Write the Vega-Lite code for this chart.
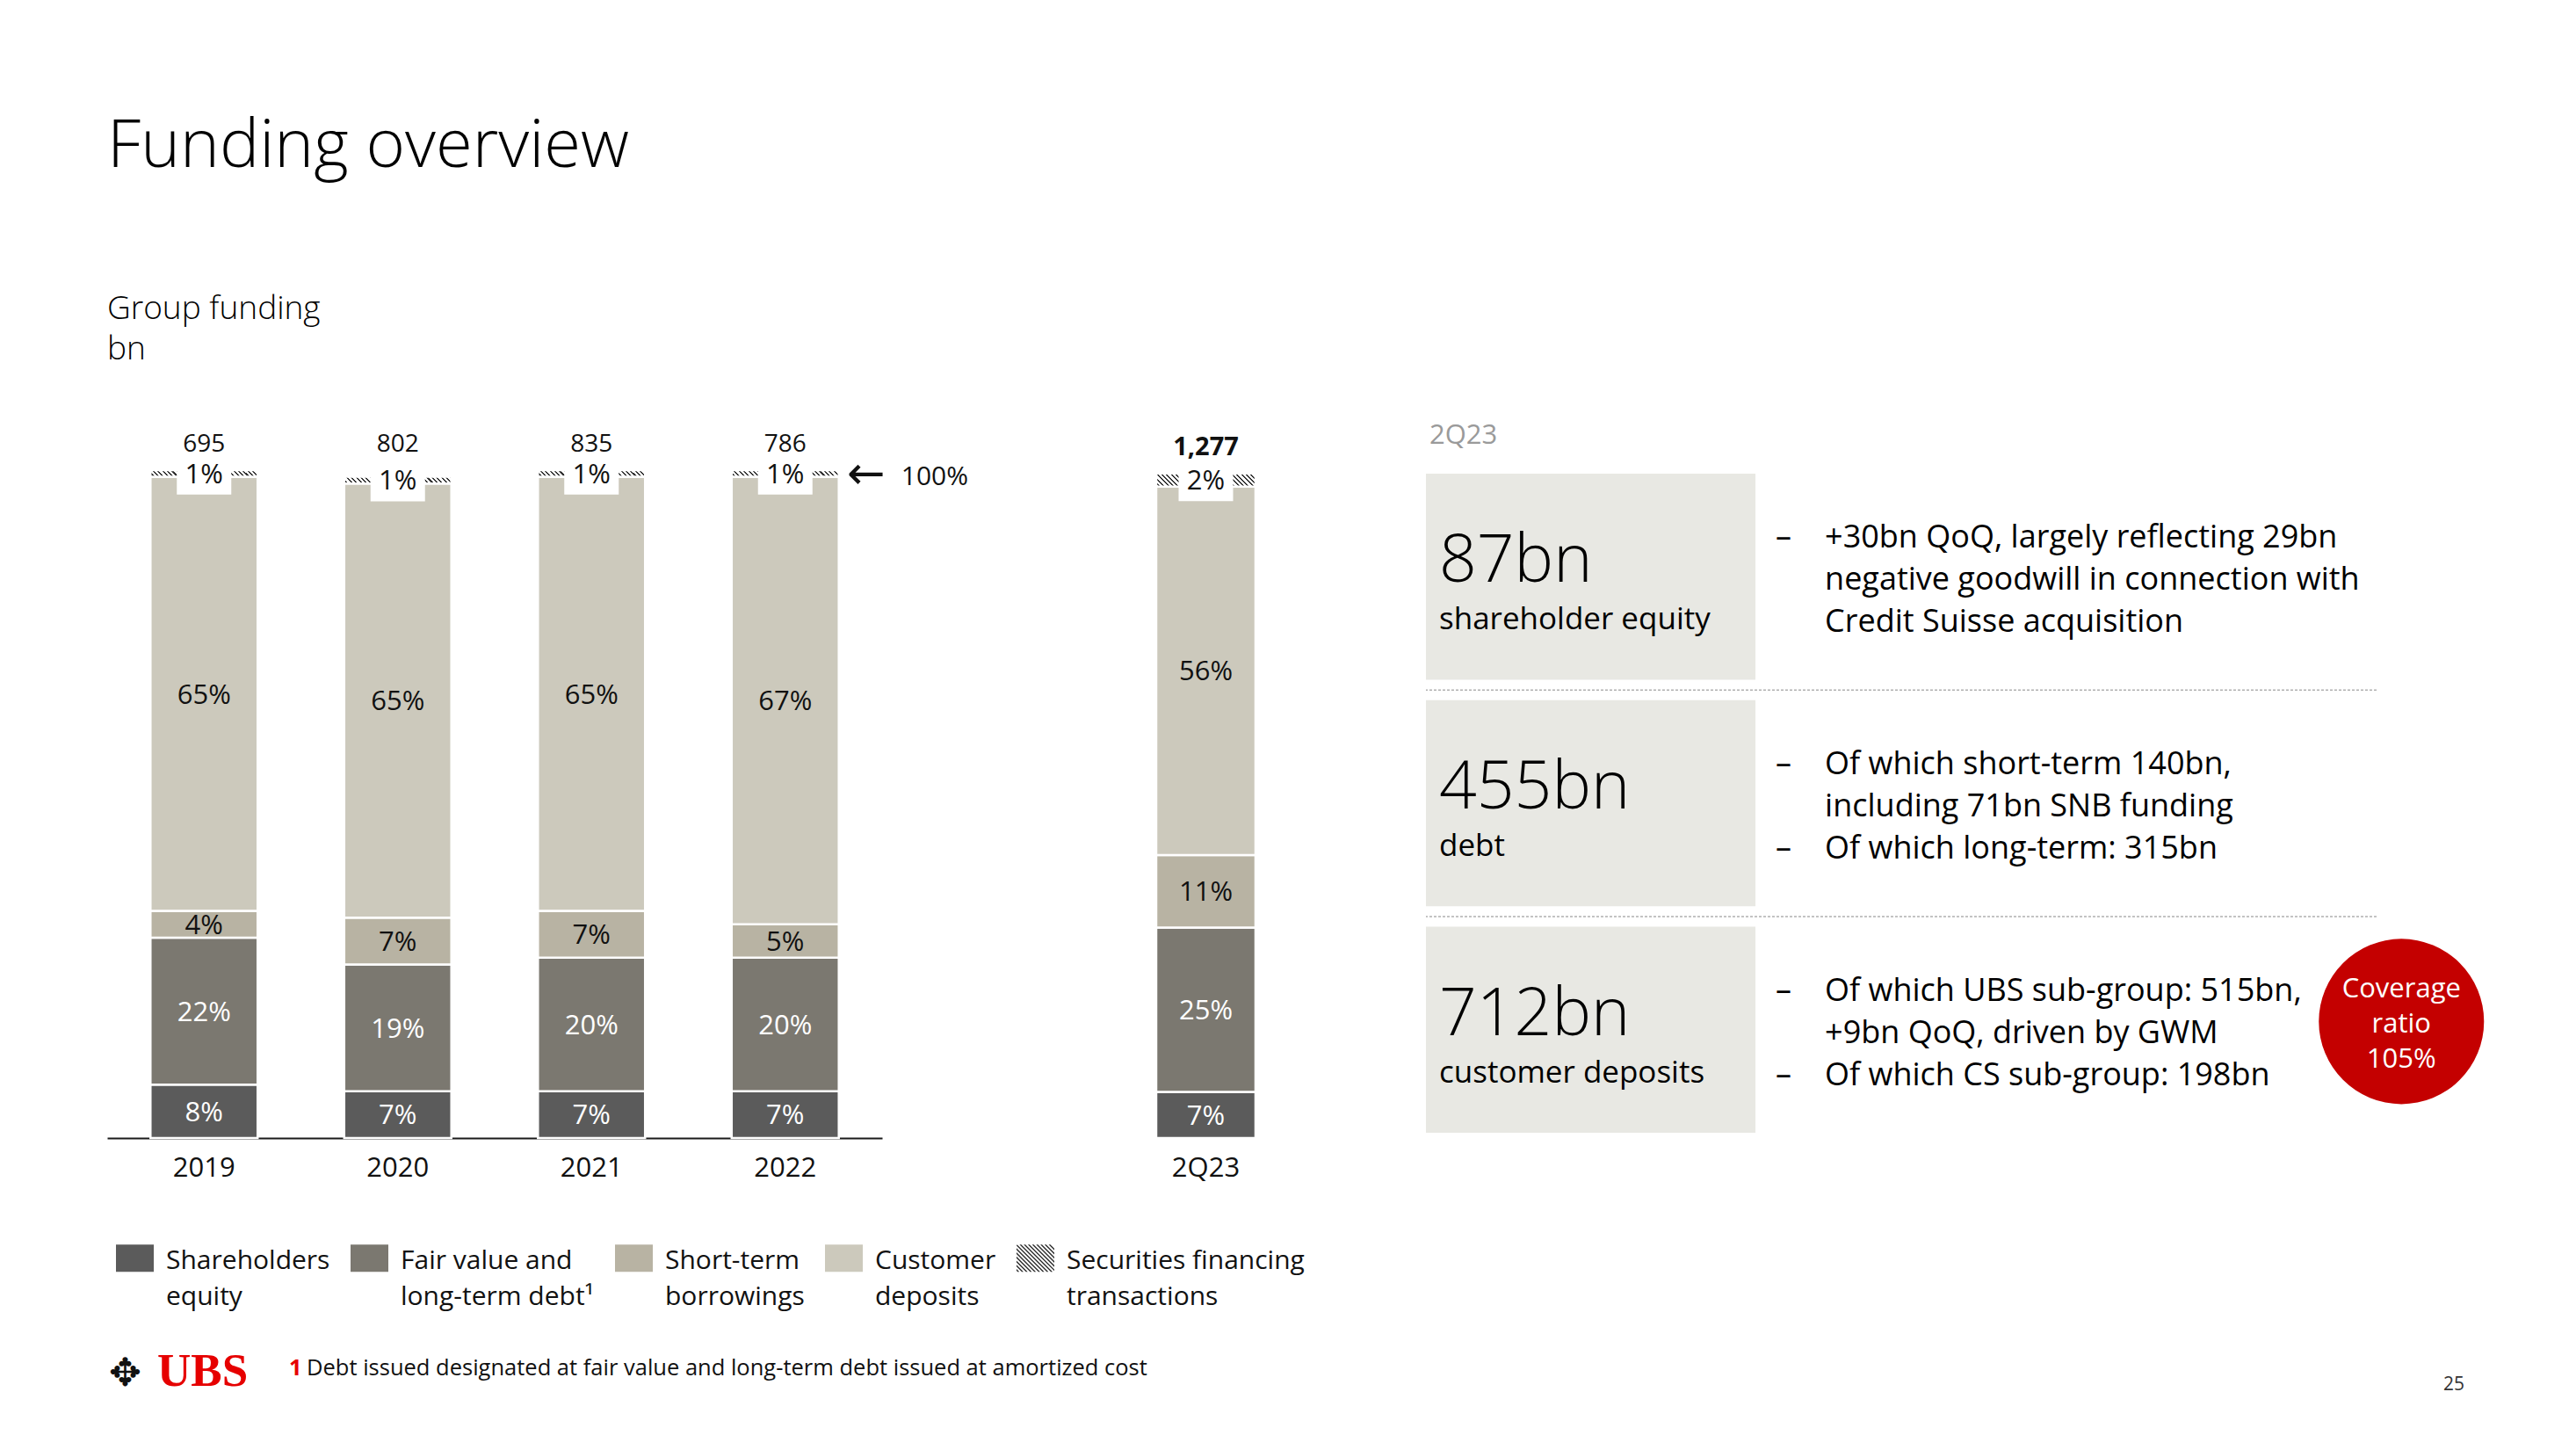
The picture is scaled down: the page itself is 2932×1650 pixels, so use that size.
{
"$schema": "https://vega.github.io/schema/vega-lite/v6.json",
"background": "#ffffff",
"padding": {"left": 122, "top": 129, "right": 0, "bottom": 0},
"config": {
  "view": {"stroke": null},
  "font": "Open Sans",
  "text": {"font": "Open Sans", "color": "#111111"},
  "axis": {"labelFont": "Open Sans"},
  "legend": {"labelFont": "Open Sans"},
  "title": {"font": "Open Sans"}
},
"title": {
  "text": "Funding overview",
  "subtitle": ["Group funding", "bn"],
  "anchor": "start",
  "frame": "group",
  "fontSize": 76,
  "fontWeight": 300,
  "color": "#000000",
  "subtitleFont": "Open Sans",
  "subtitleFontSize": 37,
  "subtitleFontWeight": 300,
  "subtitleColor": "#000000",
  "subtitlePadding": 128,
  "subtitleLineHeight": 46,
  "offset": 63
},
"datasets": {
  "funding": [
    {"period": "2019", "cat": "Shareholders equity", "seg": 1, "pct": 0.08},
    {"period": "2019", "cat": "Fair value and long-term debt", "seg": 2, "pct": 0.22},
    {"period": "2019", "cat": "Short-term borrowings", "seg": 3, "pct": 0.04},
    {"period": "2019", "cat": "Customer deposits", "seg": 4, "pct": 0.65},
    {"period": "2019", "cat": "Securities financing transactions", "seg": 5, "pct": 0.01},
    {"period": "2020", "cat": "Shareholders equity", "seg": 1, "pct": 0.07},
    {"period": "2020", "cat": "Fair value and long-term debt", "seg": 2, "pct": 0.19},
    {"period": "2020", "cat": "Short-term borrowings", "seg": 3, "pct": 0.07},
    {"period": "2020", "cat": "Customer deposits", "seg": 4, "pct": 0.65},
    {"period": "2020", "cat": "Securities financing transactions", "seg": 5, "pct": 0.01},
    {"period": "2021", "cat": "Shareholders equity", "seg": 1, "pct": 0.07},
    {"period": "2021", "cat": "Fair value and long-term debt", "seg": 2, "pct": 0.20},
    {"period": "2021", "cat": "Short-term borrowings", "seg": 3, "pct": 0.07},
    {"period": "2021", "cat": "Customer deposits", "seg": 4, "pct": 0.65},
    {"period": "2021", "cat": "Securities financing transactions", "seg": 5, "pct": 0.01},
    {"period": "2022", "cat": "Shareholders equity", "seg": 1, "pct": 0.07},
    {"period": "2022", "cat": "Fair value and long-term debt", "seg": 2, "pct": 0.20},
    {"period": "2022", "cat": "Short-term borrowings", "seg": 3, "pct": 0.05},
    {"period": "2022", "cat": "Customer deposits", "seg": 4, "pct": 0.67},
    {"period": "2022", "cat": "Securities financing transactions", "seg": 5, "pct": 0.01},
    {"period": "2Q23", "cat": "Shareholders equity", "seg": 1, "pct": 0.07},
    {"period": "2Q23", "cat": "Fair value and long-term debt", "seg": 2, "pct": 0.25},
    {"period": "2Q23", "cat": "Short-term borrowings", "seg": 3, "pct": 0.11},
    {"period": "2Q23", "cat": "Customer deposits", "seg": 4, "pct": 0.56},
    {"period": "2Q23", "cat": "Securities financing transactions", "seg": 5, "pct": 0.02}
  ],
  "totals": [
    {"period": "2019", "total": 695},
    {"period": "2020", "total": 802},
    {"period": "2021", "total": 835},
    {"period": "2022", "total": 786},
    {"period": "2Q23", "total": 1277}
  ],
  "panel": [
    {"item": "equity", "amount": "87bn", "what": "shareholder equity", "dash": "–", "dash2": "", "text": "+30bn QoQ, largely reflecting 29bn\nnegative goodwill in connection with\nCredit Suisse acquisition"},
    {"item": "debt", "amount": "455bn", "what": "debt", "dash": "–", "dash2": "–", "text": "Of which short-term 140bn,\nincluding 71bn SNB funding\nOf which long-term: 315bn"},
    {"item": "deposits", "amount": "712bn", "what": "customer deposits", "dash": "–", "dash2": "–", "text": "Of which UBS sub-group: 515bn,\n+9bn QoQ, driven by GWM\nOf which CS sub-group: 198bn"}
  ]
},
"vconcat": [
  {
    "hconcat": [
      {
        "width": 882,
        "height": 760,
        "data": {"name": "funding"},
        "transform": [{"filter": "datum.period !== '2Q23'"}],
        "encoding": {
          "x": {"field": "period", "type": "nominal",
            "scale": {"type": "band", "paddingInner": 0.447, "paddingOuter": 0.2235},
            "axis": {"title": null, "labelAngle": 0, "ticks": false, "domain": true, "domainColor": "#1a1a1a", "domainWidth": 2, "labelFontSize": 31, "labelColor": "#111111", "labelPadding": 19, "grid": false}}
        },
        "layer": [
          {
            "mark": {"type": "bar", "stroke": "#ffffff", "strokeWidth": 2.5},
            "encoding": {
              "y": {"field": "pct", "type": "quantitative", "stack": "zero", "scale": {"domain": [0, 1], "nice": false, "zero": true}, "axis": null},
              "order": {"field": "seg", "type": "quantitative"},
              "color": {
                "field": "cat", "type": "nominal",
                "condition": {"test": "datum.seg === 5", "value": {"gradient": "linear", "x1": 0, "y1": 1, "x2": 1.058, "y2": 0.934, "stops": [
                  {"offset": 0, "color": "#ffffff"}, {"offset": 0.025, "color": "#ffffff"}, {"offset": 0.025, "color": "#333333"}, {"offset": 0.0417, "color": "#333333"},
                  {"offset": 0.0417, "color": "#ffffff"}, {"offset": 0.0667, "color": "#ffffff"}, {"offset": 0.0667, "color": "#333333"}, {"offset": 0.0833, "color": "#333333"},
                  {"offset": 0.0833, "color": "#ffffff"}, {"offset": 0.1083, "color": "#ffffff"}, {"offset": 0.1083, "color": "#333333"}, {"offset": 0.125, "color": "#333333"},
                  {"offset": 0.125, "color": "#ffffff"}, {"offset": 0.15, "color": "#ffffff"}, {"offset": 0.15, "color": "#333333"}, {"offset": 0.1667, "color": "#333333"},
                  {"offset": 0.1667, "color": "#ffffff"}, {"offset": 0.1917, "color": "#ffffff"}, {"offset": 0.1917, "color": "#333333"}, {"offset": 0.2083, "color": "#333333"},
                  {"offset": 0.2083, "color": "#ffffff"}, {"offset": 0.2333, "color": "#ffffff"}, {"offset": 0.2333, "color": "#333333"}, {"offset": 0.25, "color": "#333333"},
                  {"offset": 0.25, "color": "#ffffff"}, {"offset": 0.275, "color": "#ffffff"}, {"offset": 0.275, "color": "#333333"}, {"offset": 0.2917, "color": "#333333"},
                  {"offset": 0.2917, "color": "#ffffff"}, {"offset": 0.3167, "color": "#ffffff"}, {"offset": 0.3167, "color": "#333333"}, {"offset": 0.3333, "color": "#333333"},
                  {"offset": 0.3333, "color": "#ffffff"}, {"offset": 0.3583, "color": "#ffffff"}, {"offset": 0.3583, "color": "#333333"}, {"offset": 0.375, "color": "#333333"},
                  {"offset": 0.375, "color": "#ffffff"}, {"offset": 0.4, "color": "#ffffff"}, {"offset": 0.4, "color": "#333333"}, {"offset": 0.4167, "color": "#333333"},
                  {"offset": 0.4167, "color": "#ffffff"}, {"offset": 0.4417, "color": "#ffffff"}, {"offset": 0.4417, "color": "#333333"}, {"offset": 0.4583, "color": "#333333"},
                  {"offset": 0.4583, "color": "#ffffff"}, {"offset": 0.4833, "color": "#ffffff"}, {"offset": 0.4833, "color": "#333333"}, {"offset": 0.5, "color": "#333333"},
                  {"offset": 0.5, "color": "#ffffff"}, {"offset": 0.525, "color": "#ffffff"}, {"offset": 0.525, "color": "#333333"}, {"offset": 0.5417, "color": "#333333"},
                  {"offset": 0.5417, "color": "#ffffff"}, {"offset": 0.5667, "color": "#ffffff"}, {"offset": 0.5667, "color": "#333333"}, {"offset": 0.5833, "color": "#333333"},
                  {"offset": 0.5833, "color": "#ffffff"}, {"offset": 0.6083, "color": "#ffffff"}, {"offset": 0.6083, "color": "#333333"}, {"offset": 0.625, "color": "#333333"},
                  {"offset": 0.625, "color": "#ffffff"}, {"offset": 0.65, "color": "#ffffff"}, {"offset": 0.65, "color": "#333333"}, {"offset": 0.6667, "color": "#333333"},
                  {"offset": 0.6667, "color": "#ffffff"}, {"offset": 0.6917, "color": "#ffffff"}, {"offset": 0.6917, "color": "#333333"}, {"offset": 0.7083, "color": "#333333"},
                  {"offset": 0.7083, "color": "#ffffff"}, {"offset": 0.7333, "color": "#ffffff"}, {"offset": 0.7333, "color": "#333333"}, {"offset": 0.75, "color": "#333333"},
                  {"offset": 0.75, "color": "#ffffff"}, {"offset": 0.775, "color": "#ffffff"}, {"offset": 0.775, "color": "#333333"}, {"offset": 0.7917, "color": "#333333"},
                  {"offset": 0.7917, "color": "#ffffff"}, {"offset": 0.8167, "color": "#ffffff"}, {"offset": 0.8167, "color": "#333333"}, {"offset": 0.8333, "color": "#333333"},
                  {"offset": 0.8333, "color": "#ffffff"}, {"offset": 0.8583, "color": "#ffffff"}, {"offset": 0.8583, "color": "#333333"}, {"offset": 0.875, "color": "#333333"},
                  {"offset": 0.875, "color": "#ffffff"}, {"offset": 0.9, "color": "#ffffff"}, {"offset": 0.9, "color": "#333333"}, {"offset": 0.9167, "color": "#333333"},
                  {"offset": 0.9167, "color": "#ffffff"}, {"offset": 0.9417, "color": "#ffffff"}, {"offset": 0.9417, "color": "#333333"}, {"offset": 0.9583, "color": "#333333"},
                  {"offset": 0.9583, "color": "#ffffff"}, {"offset": 0.9833, "color": "#ffffff"}, {"offset": 0.9833, "color": "#333333"}, {"offset": 1, "color": "#333333"}
                ]}},
                "scale": {
                  "domain": ["Shareholders equity", "Fair value and long-term debt", "Short-term borrowings", "Customer deposits", "Securities financing transactions"],
                  "range": ["#5b5b5b", "#7b7870", "#b8b3a3", "#ccc9bc", "#2a2a2a"]
                },
                "legend": {
                  "orient": "none",
                  "legendX": 10,
                  "legendY": 875,
                  "direction": "horizontal",
                  "columns": 5,
                  "title": null,
                  "padding": 0,
                  "symbolSize": 1849,
                  "symbolStrokeWidth": 0,
                  "labelFontSize": 30,
                  "labelColor": "#111111",
                  "labelLimit": 600,
                  "labelOffset": 14,
                  "labelBaseline": "alphabetic",
                  "columnPadding": 23,
                  "labelExpr": "datum.label === 'Shareholders equity' ? ['Shareholders', 'equity'] : datum.label === 'Fair value and long-term debt' ? ['Fair value and', 'long-term debt¹'] : datum.label === 'Short-term borrowings' ? ['Short-term', 'borrowings'] : datum.label === 'Customer deposits' ? ['Customer', 'deposits'] : ['Securities financing', 'transactions']",
                  "encoding": {
                    "symbols": {"opacity": {"value": 1}},
                    "labels": {"lineHeight": {"value": 41}, "dy": {"value": 12}}
                  }
                }
              }
            }
          },
          {
            "mark": {"type": "point", "filled": true, "opacity": 0},
            "encoding": {
              "y": {"datum": 0, "type": "quantitative"},
              "shape": {
                "field": "cat", "type": "nominal",
                "scale": {
                  "domain": ["Shareholders equity", "Fair value and long-term debt", "Short-term borrowings", "Customer deposits", "Securities financing transactions"],
                  "range": [
                    "M-1,-0.72L1,-0.72L1,0.72L-1,0.72Z",
                    "M-1,-0.72L1,-0.72L1,0.72L-1,0.72Z",
                    "M-1,-0.72L1,-0.72L1,0.72L-1,0.72Z",
                    "M-1,-0.72L1,-0.72L1,0.72L-1,0.72Z",
                    "M-1,0.66L-1,0.57L-0.85,0.72L-0.94,0.72ZM-1,0.44L-1,0.35L-0.63,0.72L-0.72,0.72ZM-1,0.22L-1,0.13L-0.41,0.72L-0.5,0.72ZM-1,0L-1,-0.09L-0.19,0.72L-0.28,0.72ZM-1,-0.22L-1,-0.31L0.03,0.72L-0.06,0.72ZM-1,-0.44L-1,-0.53L0.25,0.72L0.16,0.72ZM-1,-0.66L-0.97,-0.72L0.47,0.72L0.38,0.72ZM-0.84,-0.72L-0.75,-0.72L0.69,0.72L0.6,0.72ZM-0.62,-0.72L-0.53,-0.72L0.91,0.72L0.82,0.72ZM-0.4,-0.72L-0.31,-0.72L1,0.59L1,0.68ZM-0.18,-0.72L-0.09,-0.72L1,0.37L1,0.46ZM0.04,-0.72L0.13,-0.72L1,0.15L1,0.24ZM0.26,-0.72L0.35,-0.72L1,-0.07L1,0.02ZM0.48,-0.72L0.57,-0.72L1,-0.29L1,-0.2ZM0.7,-0.72L0.79,-0.72L1,-0.51L1,-0.42Z"
                  ]
                },
                "legend": {
                  "orient": "none",
                  "legendX": 10,
                  "legendY": 875,
                  "direction": "horizontal",
                  "columns": 5,
                  "title": null,
                  "padding": 0,
                  "symbolSize": 1849,
                  "symbolStrokeWidth": 0,
                  "labelFontSize": 30,
                  "labelColor": "#111111",
                  "labelLimit": 600,
                  "labelOffset": 14,
                  "labelBaseline": "alphabetic",
                  "columnPadding": 23,
                  "labelExpr": "datum.label === 'Shareholders equity' ? ['Shareholders', 'equity'] : datum.label === 'Fair value and long-term debt' ? ['Fair value and', 'long-term debt¹'] : datum.label === 'Short-term borrowings' ? ['Short-term', 'borrowings'] : datum.label === 'Customer deposits' ? ['Customer', 'deposits'] : ['Securities financing', 'transactions']",
                  "encoding": {
                    "symbols": {"opacity": {"value": 1}},
                    "labels": {"lineHeight": {"value": 41}, "dy": {"value": 12}}
                  }
                }
              }
            }
          },
          {
            "mark": {"type": "point", "filled": true, "shape": "M-1,-0.71L1,-0.71L1,0.71L-1,0.71Z", "size": 3844, "color": "#ffffff", "strokeWidth": 0, "yOffset": 2},
            "encoding": {
              "y": {"field": "pct", "type": "quantitative", "stack": "zero", "bandPosition": 0.5},
              "detail": {"field": "cat", "type": "nominal"},
              "order": {"field": "seg", "type": "quantitative"},
              "opacity": {"condition": {"test": "datum.seg === 5", "value": 1}, "value": 0}
            }
          },
          {
            "mark": {"type": "text", "fontSize": 31, "baseline": "middle", "dy": 2},
            "encoding": {
              "y": {"field": "pct", "type": "quantitative", "stack": "zero", "bandPosition": 0.5},
              "detail": {"field": "cat", "type": "nominal"},
              "order": {"field": "seg", "type": "quantitative"},
              "text": {"field": "pct", "type": "quantitative", "format": ".0%"},
              "color": {"condition": {"test": "datum.seg <= 2", "value": "#ffffff"}, "value": "#111111"}
            }
          },
          {
            "data": {"name": "totals"},
            "transform": [{"filter": "datum.period !== '2Q23'"}],
            "mark": {"type": "text", "fontSize": 28, "baseline": "alphabetic", "dy": -21, "color": "#111111"},
            "encoding": {
              "y": {"datum": 1, "type": "quantitative"},
              "text": {"field": "total", "type": "quantitative", "format": ","}
            }
          },
          {
            "data": {"values": [{"period": "2022", "arrow": "←", "note": "100%"}]},
            "mark": {"type": "text", "font": "DejaVu Sans", "fontSize": 52, "align": "left", "baseline": "middle", "dx": 70, "dy": 5, "color": "#111111"},
            "encoding": {
              "y": {"datum": 1, "type": "quantitative"},
              "text": {"field": "arrow", "type": "nominal"}
            }
          },
          {
            "data": {"values": [{"period": "2022", "arrow": "←", "note": "100%"}]},
            "mark": {"type": "text", "fontSize": 30, "align": "left", "baseline": "alphabetic", "dx": 132, "dy": 17, "color": "#111111"},
            "encoding": {
              "y": {"datum": 1, "type": "quantitative"},
              "text": {"field": "note", "type": "nominal"}
            }
          }
        ]
      },
      {
        "hconcat": [
          {
            "width": 226,
            "height": 760,
            "data": {"name": "funding"},
            "transform": [{"filter": "datum.period === '2Q23'"}],
            "encoding": {
              "x": {"field": "period", "type": "nominal",
                "scale": {"type": "band", "paddingInner": 0, "paddingOuter": 0.5},
                "axis": {"title": null, "labelAngle": 0, "ticks": false, "domain": false, "labelFontSize": 31, "labelColor": "#111111", "labelPadding": 19, "grid": false}}
            },
            "layer": [
              {
                "mark": {"type": "bar", "stroke": "#ffffff", "strokeWidth": 2.5},
                "encoding": {
                  "y": {"field": "pct", "type": "quantitative", "stack": "zero", "scale": {"domain": [0, 1.015], "nice": false, "zero": true}, "axis": null},
                  "order": {"field": "seg", "type": "quantitative"},
                  "color": {
                    "field": "cat", "type": "nominal",
                    "condition": {"test": "datum.seg === 5", "value": {"gradient": "linear", "x1": 0, "y1": 1, "x2": 1.113, "y2": 0.852, "stops": [
                      {"offset": 0, "color": "#ffffff"}, {"offset": 0.025, "color": "#ffffff"}, {"offset": 0.025, "color": "#333333"}, {"offset": 0.0417, "color": "#333333"},
                      {"offset": 0.0417, "color": "#ffffff"}, {"offset": 0.0667, "color": "#ffffff"}, {"offset": 0.0667, "color": "#333333"}, {"offset": 0.0833, "color": "#333333"},
                      {"offset": 0.0833, "color": "#ffffff"}, {"offset": 0.1083, "color": "#ffffff"}, {"offset": 0.1083, "color": "#333333"}, {"offset": 0.125, "color": "#333333"},
                      {"offset": 0.125, "color": "#ffffff"}, {"offset": 0.15, "color": "#ffffff"}, {"offset": 0.15, "color": "#333333"}, {"offset": 0.1667, "color": "#333333"},
                      {"offset": 0.1667, "color": "#ffffff"}, {"offset": 0.1917, "color": "#ffffff"}, {"offset": 0.1917, "color": "#333333"}, {"offset": 0.2083, "color": "#333333"},
                      {"offset": 0.2083, "color": "#ffffff"}, {"offset": 0.2333, "color": "#ffffff"}, {"offset": 0.2333, "color": "#333333"}, {"offset": 0.25, "color": "#333333"},
                      {"offset": 0.25, "color": "#ffffff"}, {"offset": 0.275, "color": "#ffffff"}, {"offset": 0.275, "color": "#333333"}, {"offset": 0.2917, "color": "#333333"},
                      {"offset": 0.2917, "color": "#ffffff"}, {"offset": 0.3167, "color": "#ffffff"}, {"offset": 0.3167, "color": "#333333"}, {"offset": 0.3333, "color": "#333333"},
                      {"offset": 0.3333, "color": "#ffffff"}, {"offset": 0.3583, "color": "#ffffff"}, {"offset": 0.3583, "color": "#333333"}, {"offset": 0.375, "color": "#333333"},
                      {"offset": 0.375, "color": "#ffffff"}, {"offset": 0.4, "color": "#ffffff"}, {"offset": 0.4, "color": "#333333"}, {"offset": 0.4167, "color": "#333333"},
                      {"offset": 0.4167, "color": "#ffffff"}, {"offset": 0.4417, "color": "#ffffff"}, {"offset": 0.4417, "color": "#333333"}, {"offset": 0.4583, "color": "#333333"},
                      {"offset": 0.4583, "color": "#ffffff"}, {"offset": 0.4833, "color": "#ffffff"}, {"offset": 0.4833, "color": "#333333"}, {"offset": 0.5, "color": "#333333"},
                      {"offset": 0.5, "color": "#ffffff"}, {"offset": 0.525, "color": "#ffffff"}, {"offset": 0.525, "color": "#333333"}, {"offset": 0.5417, "color": "#333333"},
                      {"offset": 0.5417, "color": "#ffffff"}, {"offset": 0.5667, "color": "#ffffff"}, {"offset": 0.5667, "color": "#333333"}, {"offset": 0.5833, "color": "#333333"},
                      {"offset": 0.5833, "color": "#ffffff"}, {"offset": 0.6083, "color": "#ffffff"}, {"offset": 0.6083, "color": "#333333"}, {"offset": 0.625, "color": "#333333"},
                      {"offset": 0.625, "color": "#ffffff"}, {"offset": 0.65, "color": "#ffffff"}, {"offset": 0.65, "color": "#333333"}, {"offset": 0.6667, "color": "#333333"},
                      {"offset": 0.6667, "color": "#ffffff"}, {"offset": 0.6917, "color": "#ffffff"}, {"offset": 0.6917, "color": "#333333"}, {"offset": 0.7083, "color": "#333333"},
                      {"offset": 0.7083, "color": "#ffffff"}, {"offset": 0.7333, "color": "#ffffff"}, {"offset": 0.7333, "color": "#333333"}, {"offset": 0.75, "color": "#333333"},
                      {"offset": 0.75, "color": "#ffffff"}, {"offset": 0.775, "color": "#ffffff"}, {"offset": 0.775, "color": "#333333"}, {"offset": 0.7917, "color": "#333333"},
                      {"offset": 0.7917, "color": "#ffffff"}, {"offset": 0.8167, "color": "#ffffff"}, {"offset": 0.8167, "color": "#333333"}, {"offset": 0.8333, "color": "#333333"},
                      {"offset": 0.8333, "color": "#ffffff"}, {"offset": 0.8583, "color": "#ffffff"}, {"offset": 0.8583, "color": "#333333"}, {"offset": 0.875, "color": "#333333"},
                      {"offset": 0.875, "color": "#ffffff"}, {"offset": 0.9, "color": "#ffffff"}, {"offset": 0.9, "color": "#333333"}, {"offset": 0.9167, "color": "#333333"},
                      {"offset": 0.9167, "color": "#ffffff"}, {"offset": 0.9417, "color": "#ffffff"}, {"offset": 0.9417, "color": "#333333"}, {"offset": 0.9583, "color": "#333333"},
                      {"offset": 0.9583, "color": "#ffffff"}, {"offset": 0.9833, "color": "#ffffff"}, {"offset": 0.9833, "color": "#333333"}, {"offset": 1, "color": "#333333"}
                    ]}},
                    "scale": {
                      "domain": ["Shareholders equity", "Fair value and long-term debt", "Short-term borrowings", "Customer deposits", "Securities financing transactions"],
                      "range": ["#5b5b5b", "#7b7870", "#b8b3a3", "#ccc9bc", "#2a2a2a"]
                    },
                    "legend": null
                  }
                }
              },
              {
                "mark": {"type": "point", "filled": true, "shape": "M-1,-0.71L1,-0.71L1,0.71L-1,0.71Z", "size": 3844, "color": "#ffffff", "strokeWidth": 0, "yOffset": 2},
                "encoding": {
                  "y": {"field": "pct", "type": "quantitative", "stack": "zero", "bandPosition": 0.5},
                  "detail": {"field": "cat", "type": "nominal"},
                  "order": {"field": "seg", "type": "quantitative"},
                  "opacity": {"condition": {"test": "datum.seg === 5", "value": 1}, "value": 0}
                }
              },
              {
                "mark": {"type": "text", "fontSize": 31, "baseline": "middle", "dy": 2},
                "encoding": {
                  "y": {"field": "pct", "type": "quantitative", "stack": "zero", "bandPosition": 0.5},
                  "detail": {"field": "cat", "type": "nominal"},
                  "order": {"field": "seg", "type": "quantitative"},
                  "text": {"field": "pct", "type": "quantitative", "format": ".0%"},
                  "color": {"condition": {"test": "datum.seg <= 2", "value": "#ffffff"}, "value": "#111111"}
                }
              },
              {
                "data": {"name": "totals"},
                "transform": [{"filter": "datum.period === '2Q23'"}],
                "mark": {"type": "text", "fontSize": 29, "fontWeight": "bold", "baseline": "alphabetic", "dy": -21, "color": "#111111"},
                "encoding": {
                  "y": {"datum": 1.01, "type": "quantitative"},
                  "text": {"field": "total", "type": "quantitative", "format": ","}
                }
              }
            ]
          },
          {
            "width": 1082,
            "height": 754,
            "data": {"name": "panel"},
            "encoding": {
              "y": {"field": "item", "type": "nominal",
                "scale": {"type": "band", "domain": ["equity", "debt", "deposits"], "paddingInner": 0.0902, "paddingOuter": 0.0078, "align": 1},
                "axis": null}
            },
            "layer": [
              {
                "mark": {"type": "rect", "color": "#e8e8e3"},
                "encoding": {
                  "x": {"datum": "box", "type": "nominal", "scale": {"type": "band", "domain": ["box", "text"], "paddingInner": 0.0578, "paddingOuter": 0.388, "align": 0}, "axis": null}
                }
              },
              {
                "mark": {"type": "text", "align": "left", "baseline": "alphabetic", "dx": 15, "dy": 6, "fontSize": 75, "fontWeight": 300, "color": "#000000"},
                "encoding": {
                  "x": {"datum": "box", "type": "nominal", "bandPosition": 0, "scale": {"type": "band"}},
                  "text": {"field": "amount", "type": "nominal"}
                }
              },
              {
                "mark": {"type": "text", "align": "left", "baseline": "alphabetic", "dx": 15, "dy": 60, "fontSize": 35, "color": "#000000"},
                "encoding": {
                  "x": {"datum": "box", "type": "nominal", "bandPosition": 0, "scale": {"type": "band"}},
                  "text": {"field": "what", "type": "nominal"}
                }
              },
              {
                "mark": {"type": "text", "align": "left", "baseline": "alphabetic", "dy": -33, "fontSize": 36, "color": "#000000"},
                "encoding": {
                  "x": {"datum": "text", "type": "nominal", "bandPosition": 0, "scale": {"type": "band"}},
                  "text": {"field": "dash", "type": "nominal"}
                }
              },
              {
                "mark": {"type": "text", "align": "left", "baseline": "alphabetic", "dy": 63, "fontSize": 36, "color": "#000000"},
                "encoding": {
                  "x": {"datum": "text", "type": "nominal", "bandPosition": 0, "scale": {"type": "band"}},
                  "text": {"field": "dash2", "type": "nominal"}
                }
              },
              {
                "mark": {"type": "text", "align": "left", "baseline": "alphabetic", "dx": 56, "dy": -33, "fontSize": 36, "lineHeight": 48, "lineBreak": "\n", "color": "#000000"},
                "encoding": {
                  "x": {"datum": "text", "type": "nominal", "bandPosition": 0, "scale": {"type": "band"}},
                  "text": {"field": "text", "type": "nominal"}
                }
              },
              {
                "data": {"values": [{"item": "debt"}, {"item": "deposits"}]},
                "mark": {"type": "rule", "color": "#b0b0b0", "strokeWidth": 1.5, "strokeDash": [3, 2], "yOffset": -11.5},
                "encoding": {
                  "y": {"field": "item", "type": "nominal", "bandPosition": 0, "scale": {"type": "band"}}
                }
              },
              {
                "data": {"values": [{"item": "equity", "head": "2Q23"}]},
                "mark": {"type": "text", "align": "left", "baseline": "alphabetic", "dx": 4, "dy": -34, "fontSize": 31, "color": "#9a9a9a"},
                "encoding": {
                  "x": {"datum": "box", "type": "nominal", "bandPosition": 0, "scale": {"type": "band"}},
                  "y": {"field": "item", "type": "nominal", "bandPosition": 0, "scale": {"type": "band"}},
                  "text": {"field": "head", "type": "nominal"}
                }
              },
              {
                "data": {"values": [{"item": "deposits", "ratio": "Coverage\nratio\n105%"}]},
                "mark": {"type": "point", "filled": true, "shape": "circle", "size": 35344, "color": "#c40000", "opacity": 1, "strokeWidth": 0},
                "encoding": {
                  "x": {"datum": "text", "type": "nominal", "bandPosition": 1.899, "scale": {"type": "band"}},
                  "y": {"field": "item", "type": "nominal", "bandPosition": 0.46, "scale": {"type": "band"}}
                }
              },
              {
                "data": {"values": [{"item": "deposits", "ratio": "Coverage\nratio\n105%"}]},
                "mark": {"type": "text", "align": "center", "baseline": "alphabetic", "dy": -27, "fontSize": 31, "lineHeight": 40, "lineBreak": "\n", "color": "#ffffff"},
                "encoding": {
                  "x": {"datum": "text", "type": "nominal", "bandPosition": 1.899, "scale": {"type": "band"}},
                  "y": {"field": "item", "type": "nominal", "bandPosition": 0.46, "scale": {"type": "band"}},
                  "text": {"field": "ratio", "type": "nominal"}
                }
              }
            ]
          }
        ],
        "spacing": 137.5,
        "bounds": "flush"
      }
    ],
    "spacing": 255.5,
    "bounds": "flush",
    "resolve": {"scale": {"color": "independent", "shape": "independent"}, "legend": {"color": "independent", "shape": "independent"}}
  },
  {
    "hconcat": [
      {
        "width": 420,
        "height": 80,
        "data": {"values": [{"logo": "✥", "brand": "UBS", "num": "1", "note": "Debt issued designated at fair value and long-term debt issued at amortized cost"}]},
        "layer": [
          {
            "mark": {"type": "text", "font": "DejaVu Sans", "fontSize": 44, "align": "left", "baseline": "alphabetic", "dx": 2, "dy": 12, "color": "#111111"},
            "encoding": {
              "x": {"datum": "logo", "type": "nominal", "bandPosition": 0, "scale": {"type": "band", "domain": ["logo", "note"], "paddingInner": 0, "paddingOuter": 0}, "axis": null},
              "text": {"field": "logo", "type": "nominal"}
            }
          },
          {
            "mark": {"type": "text", "font": "Liberation Serif", "fontWeight": "bold", "fontSize": 53, "align": "left", "baseline": "alphabetic", "dx": 57, "dy": 12, "color": "#e60000"},
            "encoding": {
              "x": {"datum": "logo", "type": "nominal", "bandPosition": 0, "scale": {"type": "band"}},
              "text": {"field": "brand", "type": "nominal"}
            }
          },
          {
            "mark": {"type": "text", "fontWeight": "bold", "fontSize": 25.5, "align": "left", "baseline": "alphabetic", "dx": -3, "color": "#e60000"},
            "encoding": {
              "x": {"datum": "note", "type": "nominal", "bandPosition": 0, "scale": {"type": "band"}},
              "text": {"field": "num", "type": "nominal"}
            }
          },
          {
            "mark": {"type": "text", "fontSize": 25.5, "align": "left", "baseline": "alphabetic", "dx": 17, "color": "#111111"},
            "encoding": {
              "x": {"datum": "note", "type": "nominal", "bandPosition": 0, "scale": {"type": "band"}},
              "text": {"field": "note", "type": "nominal"}
            }
          }
        ]
      },
      {
        "width": 24,
        "height": 80,
        "data": {"values": [{"page": "25"}]},
        "mark": {"type": "text", "fontSize": 21, "align": "center", "baseline": "alphabetic", "dy": 17, "color": "#333333"},
        "encoding": {"text": {"field": "page", "type": "nominal"}}
      }
    ],
    "spacing": 2239,
    "bounds": "flush"
  }
],
"spacing": 34,
"bounds": "full"
}
